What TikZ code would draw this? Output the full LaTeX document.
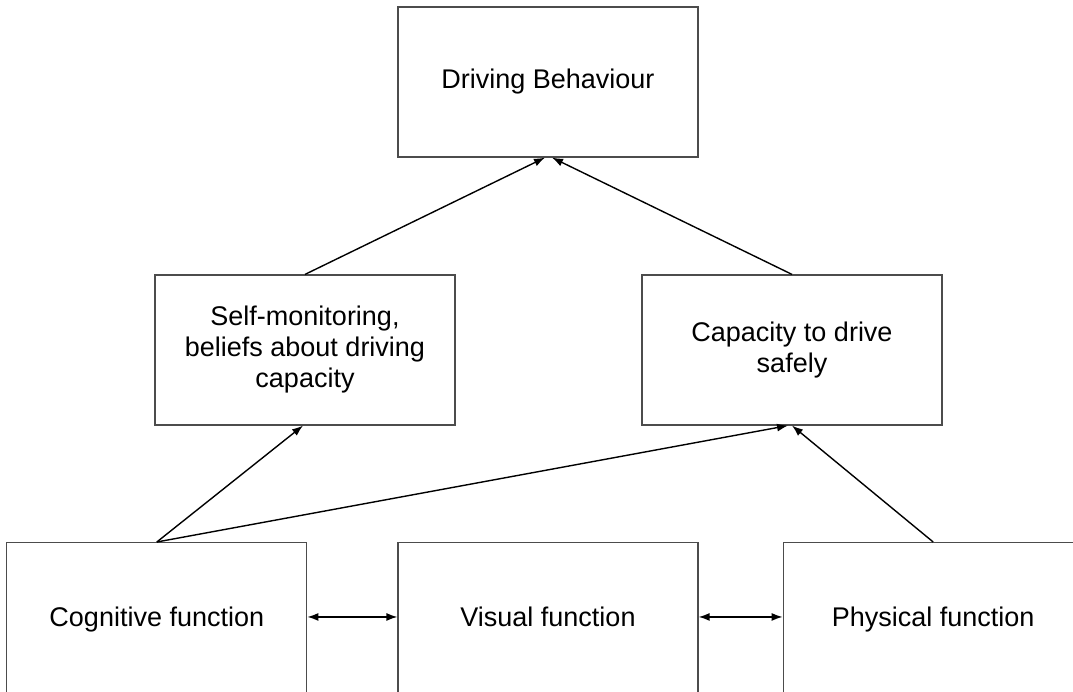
\documentclass[tikz,border=0pt]{standalone}
\usepackage{fontspec}
\setmainfont{Liberation Sans}
\usepackage{tikz}
\usetikzlibrary{arrows.meta, positioning}

\begin{document}
\begin{tikzpicture}[
        x=1pt, y=-1pt,
        factor box/.style={
            rectangle,
            draw=black!70,
            line width=1.2pt,
            minimum width=300pt,
            minimum height=150pt,
            inner sep=0pt,
            text centered,
            align=center,
            font=\fontsize{27}{31}\selectfont
        },
        % bottom row runs past the lower edge of the page
        row box/.style={
            factor box,
            minimum height=0pt,
            text height=84pt,
            text depth=100pt
        },
        link/.style={
            -{Latex[length=11pt, width=8pt]},
            line width=1.4pt
        },
        both link/.style={
            {Latex[length=11pt, width=8pt]}-{Latex[length=11pt, width=8pt]},
            line width=1.4pt
        }
    ]
        \useasboundingbox (0,0) rectangle (1073,691);
        \clip (0,0) rectangle (1073,691);

        % --- NODES ---
        % Top: outcome
        \node[factor box] (Drv) at (548,82) {Driving Behaviour};
        % Middle row
        \node[factor box] (Self) at (305,350) {Self-monitoring,\\ beliefs about driving\\ capacity};
        \node[factor box] (Cap) at (792,350) {Capacity to drive\\ safely};
        % Bottom row
        \node[row box, anchor=north] (Vis) at (548,542) {Visual function};
        \node[row box, left=90pt of Vis] (Cog) {Cognitive function};
        \node[row box, right=84pt of Vis] (Phy) {Physical function};

        % --- ARROWS UP TO DRIVING BEHAVIOUR ---
        \draw[link] (Self.north) -- ([xshift=-3pt]Drv.south);
        \draw[link] (Cap.north) -- ([xshift=4pt]Drv.south);

        % --- ARROWS FROM THE BOTTOM ROW ---
        \draw[link] (Cog.north) -- ([xshift=-2pt]Self.south);
        \draw[link] (Cog.north) -- ([xshift=-4pt]Cap.south);
        \draw[link] (Phy.north) -- (Cap.south);

        % --- TWO-WAY LINKS BETWEEN FUNCTIONS ---
        \draw[both link] ([yshift=7pt]Cog.mid east) -- ([yshift=7pt]Vis.mid west);
        \draw[both link] ([yshift=7pt]Vis.mid east) -- ([yshift=7pt]Phy.mid west);

    \end{tikzpicture}
\end{document}
